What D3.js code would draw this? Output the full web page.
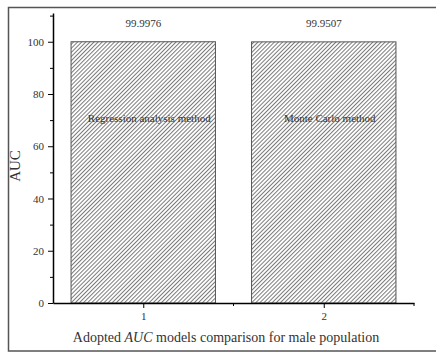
<!DOCTYPE html>
<html>
<head>
  <meta charset="utf-8">
  <title>AUC comparison</title>
  <script src="https://d3js.org/d3.v7.min.js"></script>
  <style>
    body { margin: 0; background: #fff; }
    text { font-family: "Liberation Serif", "Times New Roman", serif; fill: #333; }
  </style>
</head>
<body>
  <svg id="chart" width="436" height="353"></svg>
  <script>
    // data
    var categories = [1, 2];
    var values = [99.9976, 99.9507];
    var valueLabels = ["99.9976", "99.9507"];
    var barLabels = ["Regression analysis method", "Monte Carlo method"];
    var yTicks = [0, 20, 40, 60, 80, 100];

    var svg = d3.select("#chart");

    // outer frame
    svg.append("rect")
      .attr("x", 8.5).attr("y", 7.5)
      .attr("width", 440).attr("height", 343.5)
      .attr("fill", "none").attr("stroke", "#555").attr("stroke-width", 1.5);

    // hatch fill
    var pat = svg.append("defs").append("pattern")
      .attr("id", "hatch")
      .attr("patternUnits", "userSpaceOnUse")
      .attr("width", 2.9).attr("height", 2.9)
      .attr("patternTransform", "rotate(45)");
    pat.append("rect").attr("width", 2.9).attr("height", 2.9).attr("fill", "#fff");
    pat.append("line")
      .attr("x1", 0.5).attr("y1", 0).attr("x2", 0.5).attr("y2", 2.9)
      .attr("stroke", "#7a7a7a").attr("stroke-width", 1);

    var x = d3.scaleLinear().domain([0.5, 2.5]).range([53, 414]);
    var y = d3.scaleLinear().domain([0, 111]).range([303, 13]);

    // bars
    svg.selectAll(".bar")
      .data(values)
      .enter().append("rect")
      .attr("class", "bar")
      .attr("x", function(d, i) { return x(categories[i] - 0.4); })
      .attr("y", function(d) { return y(d); })
      .attr("width", x(1.4) - x(0.6))
      .attr("height", function(d) { return y(0) - y(d); })
      .attr("fill", "url(#hatch)")
      .attr("stroke", "#555").attr("stroke-width", 1);

    // value labels above bars
    svg.selectAll(".val")
      .data(valueLabels)
      .enter().append("text")
      .attr("class", "val")
      .attr("x", function(d, i) { return x(categories[i]); })
      .attr("y", function(d, i) { return y(values[i]) - 15; })
      .attr("text-anchor", "middle")
      .style("font-size", "11px")
      .text(function(d) { return d; });

    // method labels inside bars
    svg.selectAll(".lab")
      .data(barLabels)
      .enter().append("text")
      .attr("class", "lab")
      .attr("x", function(d, i) { return x(categories[i]) + 6; })
      .attr("y", y(71) + 4)
      .attr("text-anchor", "middle")
      .style("font-size", "11px")
      .text(function(d) { return d; });

    // y axis
    var yAxis = svg.append("g")
      .attr("transform", "translate(53,0)");
    yAxis.call(d3.axisLeft(y).tickValues(yTicks).tickSize(5).tickSizeOuter(0).tickPadding(4));
    yAxis.append("g").selectAll("line")
      .data(d3.range(10, 111, 20))
      .enter().append("line")
      .attr("x1", -3).attr("x2", 0)
      .attr("y1", function(d) { return y(d) + 0.5; })
      .attr("y2", function(d) { return y(d) + 0.5; })
      .attr("stroke", "#000");

    // x axis
    var xAxis = svg.append("g")
      .attr("transform", "translate(0,303)");
    xAxis.call(d3.axisBottom(x).tickValues(categories).tickFormat(d3.format("d"))
      .tickSize(5).tickSizeOuter(0).tickPadding(4));
    xAxis.append("g").selectAll("line")
      .data([1.5, 2.5])
      .enter().append("line")
      .attr("x1", function(d) { return x(d); })
      .attr("x2", function(d) { return x(d); })
      .attr("y1", 0).attr("y2", 3)
      .attr("stroke", "#000");

    svg.selectAll(".domain").attr("stroke", "#000").attr("stroke-width", 1.5);
    svg.selectAll(".tick line").attr("stroke", "#000");
    svg.selectAll(".tick text")
      .style("font-family", "'Liberation Serif', serif")
      .style("font-size", "11px").attr("fill", "#333");

    // axis titles
    svg.append("text")
      .attr("transform", "translate(20,166) rotate(-90)")
      .attr("text-anchor", "middle")
      .style("font-size", "15px")
      .text("AUC");

    var xt = svg.append("text")
      .attr("x", 226).attr("y", 342)
      .attr("text-anchor", "middle")
      .style("font-size", "14px");
    xt.append("tspan").text("Adopted ");
    xt.append("tspan").style("font-style", "italic").text("AUC");
    xt.append("tspan").text(" models comparison for male population");
  </script>
</body>
</html>
